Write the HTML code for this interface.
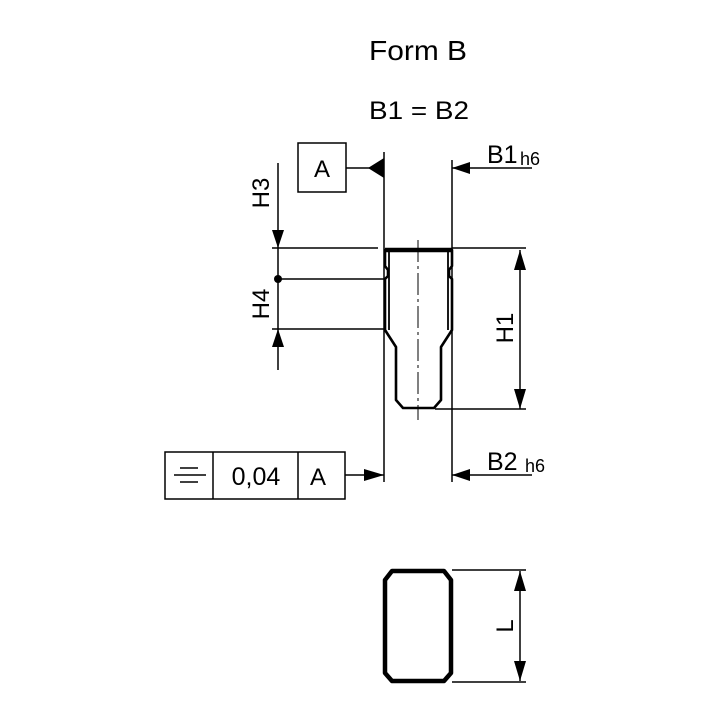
<!DOCTYPE html>
<html><head><meta charset="utf-8"><style>body{margin:0;background:#fff}svg{display:block}</style></head><body>
<svg width="720" height="720" viewBox="0 0 720 720" xmlns="http://www.w3.org/2000/svg" font-family="Liberation Sans, sans-serif" fill="none" stroke="#000">
<g fill="#000" stroke="none">
<text x="418" y="60" font-size="28" text-anchor="middle" textLength="98" lengthAdjust="spacingAndGlyphs">Form B</text>
<text x="419" y="119" font-size="25" text-anchor="middle" textLength="100" lengthAdjust="spacingAndGlyphs">B1 = B2</text>
<text x="487" y="163" font-size="25">B1</text><text x="520" y="165" font-size="18">h6</text>
<text x="487" y="470" font-size="25">B2</text><text x="525" y="472" font-size="18">h6</text>
<text x="322" y="177" font-size="24" text-anchor="middle">A</text>
<text x="318" y="485" font-size="24" text-anchor="middle">A</text>
<text x="256" y="485" font-size="25" text-anchor="middle">0,04</text>
<text transform="translate(269,193) rotate(-90)" font-size="24" text-anchor="middle">H3</text>
<text transform="translate(269,304) rotate(-90)" font-size="24" text-anchor="middle">H4</text>
<text transform="translate(513,328) rotate(-90)" font-size="24" text-anchor="middle">H1</text>
<text transform="translate(513,626) rotate(-90)" font-size="24" text-anchor="middle">L</text>
<circle cx="278" cy="279" r="4"/>
<polygon points="368,168 384,158 384,178"/>
<polygon points="452,168 470,162 470,174"/>
<polygon points="384,475 364,469 364,481"/>
<polygon points="452,475 470,469 470,481"/>
<polygon points="278,248 272,230 284,230"/>
<polygon points="278,329 272,347 284,347"/>
<polygon points="520,250 514,270 526,270"/>
<polygon points="520,409 514,389 526,389"/>
<polygon points="520,571 514,591 526,591"/>
<polygon points="520,681 514,661 526,661"/>
</g>
<g stroke-width="1.5">
<rect x="298" y="143" width="48" height="49"/>
<line x1="346" y1="168" x2="384" y2="168"/>
<line x1="452" y1="168" x2="532" y2="168"/>
<line x1="384" y1="152" x2="384" y2="482"/>
<line x1="452" y1="160" x2="452" y2="482"/>
<line x1="278" y1="163" x2="278" y2="370"/>
<line x1="272" y1="248" x2="378" y2="248"/>
<line x1="452" y1="248" x2="526" y2="248"/>
<line x1="278" y1="279" x2="384" y2="279"/>
<line x1="272" y1="329" x2="384" y2="329"/>
<line x1="435" y1="409" x2="526" y2="409"/>
<line x1="520" y1="250" x2="520" y2="409"/>
<rect x="165" y="452" width="180" height="47"/>
<line x1="213" y1="452" x2="213" y2="499"/>
<line x1="298" y1="452" x2="298" y2="499"/>
<line x1="180" y1="468" x2="198" y2="468"/>
<line x1="174" y1="475" x2="206" y2="475"/>
<line x1="180" y1="482" x2="198" y2="482"/>
<line x1="345" y1="475" x2="384" y2="475"/>
<line x1="452" y1="475" x2="532" y2="475"/>
<line x1="452" y1="570" x2="526" y2="570"/>
<line x1="452" y1="682" x2="526" y2="682"/>
<line x1="520" y1="571" x2="520" y2="681"/>
<line x1="418" y1="240" x2="418" y2="420" stroke-width="1" stroke-dasharray="22,4,3,4"/>
<line x1="389" y1="252" x2="389" y2="330" stroke-width="1.8"/>
<line x1="448" y1="252" x2="448" y2="330" stroke-width="1.8"/>
</g>
<path d="M385,250 H452 V266 L449,270 L449,276 L452,279 V330 L441,347 V400 L434,408 H403 L396,400 V347 L385,330 V279 L388,276 L388,270 L385,266 Z" stroke-width="2.6" stroke-linejoin="round"/>
<line x1="385" y1="250" x2="452" y2="250" stroke-width="4.5"/>
<path d="M392,571 H444 L451,580 V673 L444,681 H392 L385,673 V580 Z" stroke-width="4.5" stroke-linejoin="round"/>
</svg>
</body></html>
